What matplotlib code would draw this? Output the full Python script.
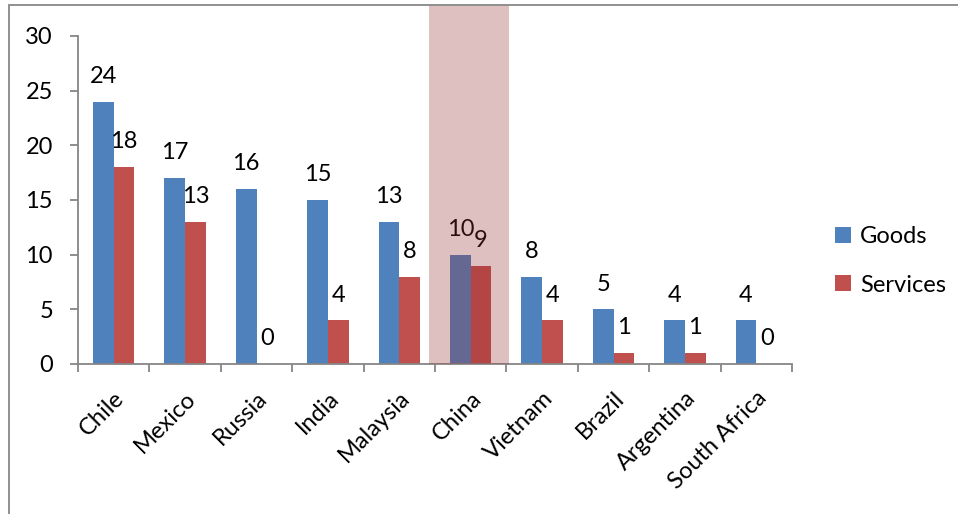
import matplotlib
matplotlib.use("Agg")
import matplotlib.pyplot as plt
from matplotlib.patches import Rectangle
import numpy as np

categories = ["Chile", "Mexico", "Russia", "India", "Malaysia", "China",
              "Vietnam", "Brazil", "Argentina", "South Africa"]
goods = [24, 17, 16, 15, 13, 10, 8, 5, 4, 4]
services = [18, 13, 0, 4, 8, 9, 4, 1, 1, 0]
yticks = [0, 5, 10, 15, 20, 25, 30]
highlight = "China"

plt.rcParams['font.family'] = ['Lato', 'DejaVu Sans']
FS = 17

W, H = 958, 514
fig = plt.figure(figsize=(W / 100, H / 100), dpi=100)
ax = fig.add_axes([78 / W, 1 - 364 / H, (792 - 78) / W, (364 - 36) / H])

x = np.arange(len(categories))
bw = 0.29
gcol = "#4f81bd"
scol = "#c0504d"
ax.bar(x - bw / 2, goods, bw, color=gcol, label="Goods", zorder=2)
ax.bar(x + bw / 2, services, bw, color=scol, label="Services", zorder=2)

for i in range(len(categories)):
    ax.annotate(str(goods[i]), (x[i] - bw / 2, goods[i]), xytext=(0, 13.5),
                textcoords="offset points", ha="center", va="baseline",
                fontsize=FS, zorder=3)
    ax.annotate(str(services[i]), (x[i] + bw / 2, services[i]), xytext=(0, 13.5),
                textcoords="offset points", ha="center", va="baseline",
                fontsize=FS, zorder=3)

# highlight band
hi = categories.index(highlight)
band = Rectangle((hi - 0.58, 0), 1.12, 32.85, facecolor="#983034", alpha=0.3,
                 edgecolor="none", clip_on=False, zorder=4)
ax.add_patch(band)

ax.set_xlim(-0.5, len(categories) - 0.5)
ax.set_ylim(0, 30)
ax.set_yticks(yticks)
ax.set_yticklabels([str(v) for v in yticks], fontsize=FS)
ax.set_xticks(np.arange(len(categories) + 1) - 0.5, minor=False)
ax.set_xticklabels([])
ax.set_xticks(x, minor=True)
ax.set_xticklabels(categories, minor=True, rotation=45, ha="right",
                   rotation_mode="anchor", fontsize=FS)
ax.tick_params(axis="x", which="minor", length=0, pad=17)
ax.tick_params(axis="x", which="major", length=6, width=1.3, color="#868686", direction="out")
ax.tick_params(axis="y", length=6, width=1.3, color="#868686", direction="out", pad=12)

for s in ["top", "right"]:
    ax.spines[s].set_visible(False)
for s in ["left", "bottom"]:
    ax.spines[s].set_color("#868686")
    ax.spines[s].set_linewidth(1.3)

leg = ax.legend(loc="center left", bbox_to_anchor=(826 / W, 1 - 261 / H),
                bbox_transform=fig.transFigure, frameon=False, fontsize=FS,
                handlelength=0.65, handleheight=0.65, handletextpad=0.4,
                labelspacing=1.15, borderaxespad=0)

# outer frame
fig.add_artist(Rectangle((9 / W, -0.1), 1.2, (1 - 5 / H) + 0.1, transform=fig.transFigure,
                         fill=False, edgecolor="#888888", linewidth=1.3))

fig.savefig("out.png", dpi=100)
